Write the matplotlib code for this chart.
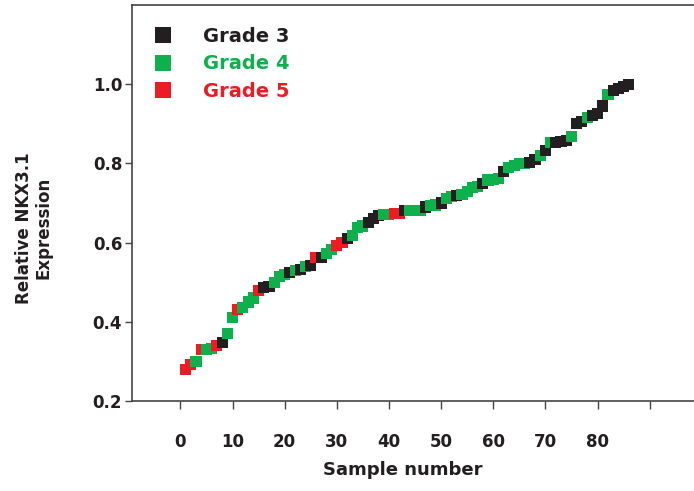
import matplotlib
matplotlib.use("Agg")
import matplotlib.pyplot as plt
from matplotlib.lines import Line2D

# grade of each sample, in sample order (3, 4 or 5)
grades = [5, 5, 4, 5, 4, 4, 5, 3, 4, 4,
          5, 4, 4, 4, 5, 3, 3, 4, 4, 4,
          3, 4, 3, 4, 3, 5, 3, 4, 4, 5,
          5, 3, 4, 4, 4, 3, 3, 3, 4, 4,
          5, 5, 3, 4, 4, 4, 3, 4, 4, 3,
          4, 4, 3, 4, 4, 4, 4, 3, 4, 4,
          4, 3, 4, 4, 4, 4, 3, 3, 4, 3,
          4, 3, 3, 3, 4, 3, 3, 4, 3, 3,
          3, 4, 3, 3, 3, 3]

expression = [0.280, 0.292, 0.300, 0.330, 0.331, 0.333, 0.340, 0.348, 0.370, 0.410,
              0.432, 0.437, 0.450, 0.460, 0.480, 0.487, 0.490, 0.500, 0.515, 0.520,
              0.524, 0.530, 0.533, 0.540, 0.542, 0.562, 0.563, 0.572, 0.582, 0.592,
              0.600, 0.610, 0.618, 0.638, 0.642, 0.650, 0.660, 0.668, 0.672, 0.672,
              0.673, 0.674, 0.680, 0.680, 0.681, 0.682, 0.690, 0.694, 0.695, 0.700,
              0.712, 0.716, 0.720, 0.722, 0.730, 0.740, 0.742, 0.750, 0.758, 0.760,
              0.762, 0.780, 0.790, 0.795, 0.800, 0.800, 0.802, 0.810, 0.820, 0.833,
              0.852, 0.853, 0.855, 0.858, 0.868, 0.900, 0.905, 0.915, 0.920, 0.927,
              0.945, 0.975, 0.985, 0.990, 0.995, 1.000]

samples = list(range(1, len(expression) + 1))

grade_colors = {3: "#231f20", 4: "#0db04b", 5: "#ed1c24"}
grade_labels = {3: "Grade 3", 4: "Grade 4", 5: "Grade 5"}

x_ticks = [0, 10, 20, 30, 40, 50, 60, 70, 80, 90]
x_tick_labels = ["0", "10", "20", "30", "40", "50", "60", "70", "80", ""]
y_ticks = [0.2, 0.4, 0.6, 0.8, 1.0]


def main():
    plt.rcParams["font.family"] = ["DejaVu Sans"]
    plt.rcParams["font.weight"] = "bold"

    fig = plt.figure(figsize=(6.94, 4.91), dpi=100)
    ax = fig.add_axes([0.190, 0.1833, 0.81, 0.8065])

    colors = [grade_colors[g] for g in grades]
    ax.scatter(samples, expression, c=colors, marker="s", s=64, linewidths=0, zorder=3)

    ax.set_xlim(-9.3, 98.5)
    ax.set_ylim(0.2, 1.2)

    ax.set_xticks(x_ticks)
    ax.set_xticklabels(x_tick_labels, fontsize=12, fontweight="bold", color="#231f20")
    ax.set_yticks(y_ticks)
    ax.set_yticklabels(["%.1f" % v for v in y_ticks], fontsize=12, fontweight="bold", color="#231f20")
    ax.tick_params(axis="x", direction="out", length=6, width=1, pad=17, color="#444444")
    ax.tick_params(axis="y", direction="out", length=5, width=1, pad=2, color="#444444")

    for side in ["left", "bottom", "top"]:
        ax.spines[side].set_color("#444444")
        ax.spines[side].set_linewidth(1.2)
    ax.spines["right"].set_visible(False)

    ax.set_xlabel("Sample number", fontsize=13, fontweight="bold", color="#231f20")
    ax.xaxis.set_label_coords(0.482, -0.1515)
    ax.set_ylabel("Relative NKX3.1\nExpression", fontsize=12, fontweight="bold",
                  color="#231f20", linespacing=1.1)
    ax.yaxis.set_label_coords(-0.1406, 0.437)

    handles = [Line2D([], [], linestyle="none", marker="s", markersize=11.5,
                      markerfacecolor=grade_colors[g], markeredgewidth=0)
               for g in [3, 4, 5]]
    leg = ax.legend(handles, [grade_labels[g] for g in [3, 4, 5]],
                    loc="upper left", bbox_to_anchor=(0.024, 0.965), borderaxespad=0,
                    frameon=False, fontsize=14, handlelength=1.0, handletextpad=1.56,
                    labelspacing=0.45, borderpad=0.4)
    for txt, g in zip(leg.get_texts(), [3, 4, 5]):
        txt.set_color(grade_colors[g])
        txt.set_fontweight("bold")

    fig.savefig("out.png", dpi=100)


if __name__ == "__main__":
    main()
